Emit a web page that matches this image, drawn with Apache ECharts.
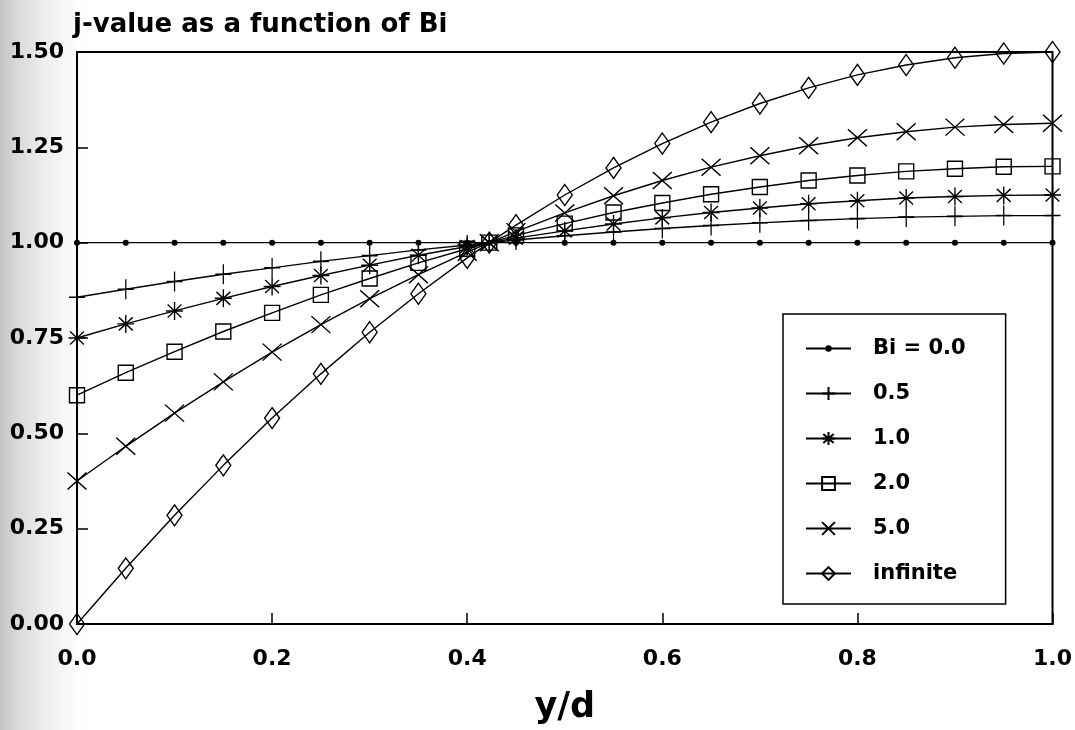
<!DOCTYPE html>
<html>
<head>
<meta charset="utf-8">
<script src="https://cdn.jsdelivr.net/npm/echarts@6/dist/echarts.min.js"></script>
<style>
  html, body { margin: 0; padding: 0; background: #fff; }
  #chart { width: 1075px; height: 730px; }
</style>
</head>
<body>
<div id="chart"></div>
<script>
// y/d positions of the plotted points
const xs = [0, 0.05, 0.1, 0.15, 0.2, 0.25, 0.3, 0.35, 0.4, 0.4226, 0.45, 0.5, 0.55, 0.6, 0.65, 0.7, 0.75, 0.8, 0.85, 0.9, 0.95, 1.0];
// j-values
const bi0  = [1, 1, 1, 1, 1, 1, 1, 1, 1, 1, 1, 1, 1, 1, 1, 1, 1, 1, 1, 1, 1, 1];
const bi05 = [0.857, 0.878, 0.898, 0.917, 0.934, 0.951, 0.966, 0.981, 0.994, 1.000, 1.007, 1.018, 1.028, 1.037, 1.045, 1.052, 1.058, 1.063, 1.067, 1.069, 1.071, 1.071];
const bi1  = [0.750, 0.787, 0.821, 0.854, 0.885, 0.914, 0.941, 0.967, 0.990, 1.000, 1.012, 1.031, 1.049, 1.065, 1.079, 1.091, 1.102, 1.110, 1.117, 1.121, 1.124, 1.125];
const bi2  = [0.600, 0.659, 0.714, 0.767, 0.816, 0.863, 0.906, 0.947, 0.984, 1.000, 1.019, 1.050, 1.079, 1.104, 1.127, 1.146, 1.163, 1.176, 1.187, 1.194, 1.199, 1.200];
const bi5  = [0.375, 0.466, 0.553, 0.635, 0.713, 0.785, 0.853, 0.916, 0.975, 1.000, 1.029, 1.078, 1.123, 1.163, 1.198, 1.228, 1.254, 1.275, 1.291, 1.303, 1.310, 1.313];
const biInf = [0.000, 0.146, 0.285, 0.416, 0.540, 0.656, 0.765, 0.866, 0.960, 1.000, 1.046, 1.125, 1.196, 1.260, 1.316, 1.365, 1.406, 1.440, 1.466, 1.485, 1.496, 1.500];

const seriesNames = ['Bi = 0.0', '0.5', '1.0', '2.0', '5.0', 'infinite'];
const seriesValues = [bi0, bi05, bi1, bi2, bi5, biInf];

const titleText = 'j-value as a function of Bi';
const xName = 'y/d';

const FONT = 'DejaVu Sans';

const symbols = [
  { symbol: 'path://M0,0M12,12M6,3A3,3,0,1,1,6,9A3,3,0,1,1,6,3Z', size: 12, filled: true },
  { symbol: 'path://M8,0L8,20M0,10L16,10', size: [16, 20] },
  { symbol: 'path://M8,0L8,18M0,9L16,9M1.5,2.5L14.5,15.5M1.5,15.5L14.5,2.5', size: [17, 18] },
  { symbol: 'path://M0,0L14,0L14,14L0,14Z', size: [15, 15] },
  { symbol: 'path://M0,0L18,17M0,17L18,0', size: [19, 17] },
  { symbol: 'path://M8,0L16,10L8,20L0,10Z', size: [15, 21] }
];

const series = seriesNames.map((name, i) => {
  const s = symbols[i];
  return {
    name: name,
    type: 'line',
    data: xs.map((x, k) => [x, seriesValues[i][k]]),
    symbol: s.symbol,
    symbolSize: s.size,
    showSymbol: true,
    clip: false,
    color: '#000',
    lineStyle: { color: '#000', width: 1.4 },
    itemStyle: s.filled
      ? { color: '#000', borderColor: '#000', borderWidth: 0 }
      : { color: 'rgba(0,0,0,0)', borderColor: '#000', borderWidth: 1.4 },
    emphasis: { disabled: true },
    animation: false
  };
});

const chart = echarts.init(document.getElementById('chart'), null, { renderer: 'canvas' });
chart.setOption({
  backgroundColor: '#fff',
  animation: false,
  graphic: [{
    type: 'rect',
    left: 0, top: 0, z: -10, silent: true,
    shape: { width: 85, height: 730 },
    style: {
      fill: new echarts.graphic.LinearGradient(0, 0, 1, 0, [
        { offset: 0, color: '#c2c2c2' },
        { offset: 0.2, color: '#d9d9d9' },
        { offset: 0.5, color: '#ececec' },
        { offset: 0.8, color: '#f8f8f8' },
        { offset: 1, color: '#ffffff' }
      ])
    }
  }],
  title: {
    text: titleText,
    left: 73,
    top: 12,
    padding: 0,
    textStyle: { fontFamily: FONT, fontWeight: 'bold', fontSize: 26, color: '#000' }
  },
  grid: {
    left: 77, right: 20, top: 52, bottom: 105,
    show: true, borderColor: '#000', borderWidth: 2, backgroundColor: 'rgba(0,0,0,0)'
  },
  legend: {
    orient: 'vertical',
    left: 783,
    top: 314,
    padding: [24, 40, 20, 22],
    itemWidth: 45,
    itemHeight: 16,
    itemGap: 24,
    borderColor: '#000',
    borderWidth: 1.5,
    backgroundColor: '#fff',
    selectedMode: false,
    data: seriesNames,
    textStyle: {
      fontFamily: FONT, fontWeight: 'bold', fontSize: 21, color: '#000',
      lineHeight: 16, padding: [0, 0, 0, 17]
    }
  },
  xAxis: {
    type: 'value',
    min: 0, max: 1, interval: 0.2,
    name: xName,
    nameLocation: 'middle',
    nameGap: 66,
    nameTextStyle: { fontFamily: FONT, fontWeight: 'bold', fontSize: 35, color: '#000' },
    axisLine: { show: true, lineStyle: { color: '#000', width: 2 } },
    axisTick: { show: true, inside: true, length: 11, lineStyle: { color: '#000', width: 1.5 } },
    splitLine: { show: false },
    axisLabel: {
      margin: 24,
      fontFamily: FONT, fontWeight: 'bold', fontSize: 22, color: '#000',
      formatter: v => v.toFixed(1)
    }
  },
  yAxis: {
    type: 'value',
    min: 0, max: 1.5, interval: 0.25,
    axisLine: { show: true, lineStyle: { color: '#000', width: 2 } },
    axisTick: { show: true, inside: true, length: 11, lineStyle: { color: '#000', width: 1.5 } },
    splitLine: { show: false },
    axisLabel: {
      margin: 13,
      fontFamily: FONT, fontWeight: 'bold', fontSize: 22, color: '#000',
      formatter: v => v.toFixed(2)
    }
  },
  series: series
});
</script>
</body>
</html>
